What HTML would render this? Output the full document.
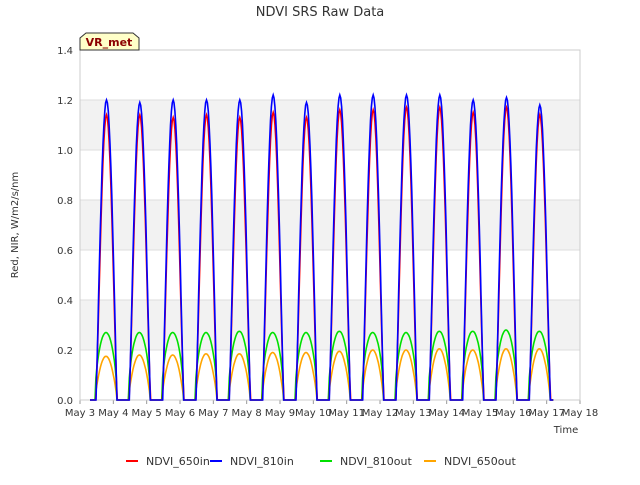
<!DOCTYPE html>
<html><head><meta charset="utf-8"><style>
body{margin:0;background:#fff;font-family:"Liberation Sans","DejaVu Sans",sans-serif}
svg text{font-family:"DejaVu Sans","Liberation Sans",sans-serif}
</style></head><body>
<svg id="c" width="640" height="480"></svg>
<script>
const days=["May 3","May 4","May 5","May 6","May 7","May 8","May 9","May 10","May 11","May 12","May 13","May 14","May 15","May 16","May 17","May 18"];
const yTicks=[0,0.2,0.4,0.6,0.8,1.0,1.2,1.4];
const peak810in=[1.20,1.19,1.20,1.20,1.20,1.22,1.19,1.22,1.22,1.22,1.22,1.20,1.21,1.18];
const peak650in=[1.14,1.14,1.13,1.14,1.13,1.15,1.13,1.16,1.16,1.17,1.17,1.15,1.17,1.14];
const peak810out=[0.27,0.27,0.27,0.27,0.275,0.27,0.27,0.275,0.27,0.27,0.275,0.275,0.28,0.275];
const peak650out=[0.175,0.18,0.18,0.185,0.185,0.19,0.19,0.195,0.2,0.2,0.205,0.2,0.205,0.205];
const NS="http://www.w3.org/2000/svg";
const svg=document.getElementById('c');
const X0=80,X1=580,Y0=400,Y1=50;
const xs=d=>X0+(d/15)*(X1-X0);
const ys=v=>Y0-(v/1.4)*(Y0-Y1);
function el(t,a,p){const e=document.createElementNS(NS,t);for(const k in a)e.setAttribute(k,a[k]);(p||svg).appendChild(e);return e;}
el('rect',{x:X0,y:Y1,width:X1-X0,height:Y0-Y1,fill:'#fff'});
[[0.2,0.4],[0.6,0.8],[1.0,1.2]].forEach(b=>{const r=el('rect',{x:X0,y:ys(b[1]),width:X1-X0,height:ys(b[0])-ys(b[1]),fill:'#f2f2f2'});

});
yTicks.forEach(v=>{el('line',{x1:X0,x2:X1,y1:ys(v),y2:ys(v),stroke:'#dddddd','stroke-width':1});
const t=el('text',{x:X0-7,y:ys(v)+4,'text-anchor':'end','font-size':10,fill:'#333'});t.textContent=v.toFixed(1);

});
days.forEach((d,i)=>{el('line',{x1:xs(i),x2:xs(i),y1:Y0,y2:Y0+4,stroke:'#999'});
const t=el('text',{x:xs(i),y:Y0+16,'text-anchor':'middle','font-size':10,fill:'#333'});t.textContent=d;

});
el('rect',{x:X0,y:Y1,width:X1-X0,height:Y0-Y1,fill:'none',stroke:'#cccccc'});
function series(peaks,start,end,pw,color,name){
 let pts=[];
 pts.push([xs(0.3),ys(0)]);
 peaks.forEach((p,i)=>{
  const s=i+start,e=i+end;
  pts.push([xs(s-0.02),ys(0)]);
  for(let k=0;k<=24;k++){const t=s+(e-s)*k/24;const v=p*Math.pow(Math.sin(Math.PI*k/24),pw);pts.push([xs(t),ys(v)]);}
 });
 pts.push([xs(peaks.length+0.2),ys(0)]);
 const path=el('path',{d:'M'+pts.map(q=>q[0].toFixed(1)+','+q[1].toFixed(1)).join('L'),fill:'none',stroke:color,'stroke-width':1.6});
 
 
}
series(peak650out,0.45,1.11,0.8,'#ffa500','series-ndvi-650out');
series(peak810out,0.45,1.11,0.55,'#00e000','series-ndvi-810out');
series(peak650in,0.47,1.12,1.3,'#ff0000','series-ndvi-650in');
series(peak810in,0.48,1.11,1.1,'#0000ff','series-ndvi-810in');
</script>
<svg width="640" height="480" style="position:absolute;left:0;top:0">
<text x="320" y="16" text-anchor="middle" font-size="13" fill="#333">NDVI SRS Raw Data</text>
<path d="M80,50 L80,38 L86,33 L133,33 L139,38 L139,50 Z" fill="#ffffc8" stroke="#333"/>
<text x="109" y="46" text-anchor="middle" font-size="11" font-weight="bold" fill="#8b0000">VR_met</text>
<text transform="translate(18,225) rotate(-90)" text-anchor="middle" font-size="10" fill="#333">Red, NIR, W/m2/s/nm</text>
<text x="566" y="433" text-anchor="middle" font-size="10" fill="#333">Time</text>
<g font-size="11" fill="#333">
<line x1="126" x2="138" y1="461" y2="461" stroke="#ff0000" stroke-width="2"/><text x="146" y="465">NDVI_650in</text>
<line x1="210" x2="222" y1="461" y2="461" stroke="#0000ff" stroke-width="2"/><text x="230" y="465">NDVI_810in</text>
<line x1="320" x2="332" y1="461" y2="461" stroke="#00e000" stroke-width="2"/><text x="340" y="465">NDVI_810out</text>
<line x1="424" x2="436" y1="461" y2="461" stroke="#ffa500" stroke-width="2"/><text x="444" y="465">NDVI_650out</text>
</g>
</svg>
</body></html>
